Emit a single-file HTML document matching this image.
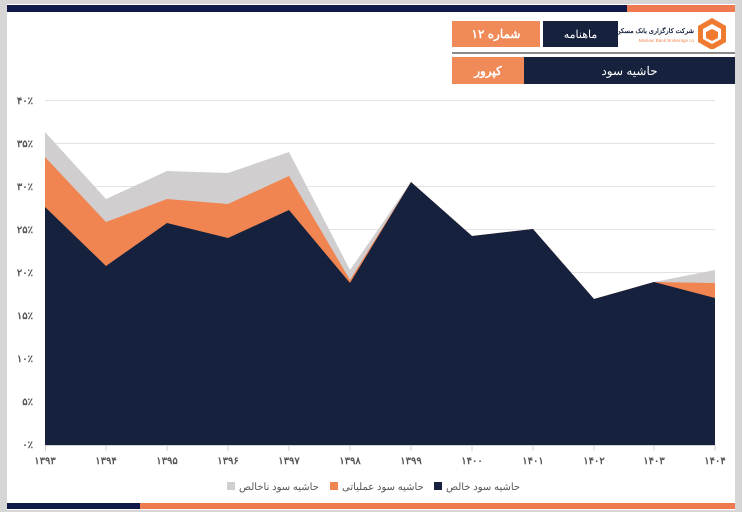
<!DOCTYPE html>
<html><head><meta charset="utf-8"><style>
body{margin:0;width:742px;height:512px;background:#d6d6d6;position:relative;overflow:hidden;font-family:"Liberation Sans","Noto Sans CJK SC",sans-serif}
.w{position:absolute;left:7px;top:4px;width:728px;height:506px;background:#fff}
.b{position:absolute}
.t{position:absolute;color:#fff;font-size:12px;font-weight:bold;display:flex;align-items:center;justify-content:center}
</style></head><body>
<div class="w"></div>
<div class="b" style="left:7px;top:5px;width:620px;height:7px;background:#0f1a4a"></div>
<div class="b" style="left:627px;top:5px;width:108px;height:7px;background:#f07a4f"></div>
<div class="b" style="left:7px;top:503px;width:133px;height:6px;background:#0f1a4a"></div>
<div class="b" style="left:140px;top:503px;width:595px;height:6px;background:#f07a4f"></div>
<div class="t" style="left:452px;top:21px;width:88px;height:26px;background:#f08a58">شماره ۱۲</div>
<div class="t" style="left:543px;top:21px;width:75px;height:26px;background:#15213d;font-weight:normal;font-size:11px">ماهنامه</div>
<div class="b" style="left:620px;top:27px;width:74px;font-size:6.5px;line-height:9px;color:#15213d;text-align:right;direction:rtl;white-space:nowrap;font-weight:bold">شرکت کارگزاری بانک مسکن<br><span style="color:#f08a58;font-size:4.5px;font-weight:normal">Maskan Bank Brokerage co.</span></div>
<svg class="b" style="left:696px;top:17px" width="32" height="32" viewBox="0 0 32 32"><polygon points="16,1 30,9 30,25 16,33 2,25 2,9" fill="#f07a2f"/><polygon points="16,7 25,12 25,22 16,27 7,22 7,12" fill="#fff"/><polygon points="16,12 22,15 22,21 16,24 10,21 10,15" fill="#f07a2f"/></svg>
<div class="b" style="left:452px;top:52px;width:283px;height:2px;background:#8a8a8a"></div>
<div class="t" style="left:452px;top:57px;width:72px;height:27px;background:#f08a58">کپرور</div>
<div class="t" style="left:524px;top:57px;width:211px;height:27px;background:#15213d;font-weight:normal">حاشیه سود</div>
<svg class="b" style="left:0;top:0" width="742" height="512">
<g stroke="#e3e3e3" stroke-width="1">
<line x1="45" x2="715" y1="100.5" y2="100.5"/><line x1="45" x2="715" y1="143.5" y2="143.5"/><line x1="45" x2="715" y1="186.5" y2="186.5"/><line x1="45" x2="715" y1="229.5" y2="229.5"/><line x1="45" x2="715" y1="272.5" y2="272.5"/><line x1="45" x2="715" y1="315.5" y2="315.5"/><line x1="45" x2="715" y1="358.5" y2="358.5"/><line x1="45" x2="715" y1="401.5" y2="401.5"/>
</g>
<polygon fill="#d0cece" points="45,445 45,132 106,199 167,171 228,173 289,152 350,270 411,182 472,236 533,229 594,299 654,282 715,270 715,445"/>
<polygon fill="#f08552" points="45,445 45,157 106,222 167,199 228,204 289,176 350,280 411,182 472,236 533,229 594,299 654,282 715,283 715,445"/>
<polygon fill="#15213d" points="45,445 45,207 106,266 167,223 228,238 289,210 350,283 411,182 472,236 533,229 594,299 654,282 715,298 715,445"/>
<g stroke="#d0d0d0"><line x1="45" x2="715" y1="445.5" y2="445.5"/>
<line x1="45.5" x2="45.5" y1="445" y2="451"/><line x1="106" x2="106" y1="445" y2="451"/><line x1="167" x2="167" y1="445" y2="451"/><line x1="228" x2="228" y1="445" y2="451"/><line x1="289" x2="289" y1="445" y2="451"/><line x1="350" x2="350" y1="445" y2="451"/><line x1="411" x2="411" y1="445" y2="451"/><line x1="472" x2="472" y1="445" y2="451"/><line x1="533" x2="533" y1="445" y2="451"/><line x1="594" x2="594" y1="445" y2="451"/><line x1="654" x2="654" y1="445" y2="451"/><line x1="715" x2="715" y1="445" y2="451"/></g>
<g font-size="10" fill="#555" font-weight="bold" text-anchor="end" font-family="Liberation Sans,Noto Sans CJK SC,sans-serif">
<text x="33" y="104">۴۰٪</text><text x="33" y="147">۳۵٪</text><text x="33" y="190">۳۰٪</text><text x="33" y="233">۲۵٪</text><text x="33" y="276">۲۰٪</text><text x="33" y="319">۱۵٪</text><text x="33" y="362">۱۰٪</text><text x="33" y="405">۵٪</text><text x="33" y="448">۰٪</text>
</g>
<g font-size="10" fill="#555" font-weight="bold" text-anchor="middle" font-family="Liberation Sans,Noto Sans CJK SC,sans-serif">
<text x="45" y="464">۱۳۹۳</text><text x="106" y="464">۱۳۹۴</text><text x="167" y="464">۱۳۹۵</text><text x="228" y="464">۱۳۹۶</text><text x="289" y="464">۱۳۹۷</text><text x="350" y="464">۱۳۹۸</text><text x="411" y="464">۱۳۹۹</text><text x="472" y="464">۱۴۰۰</text><text x="533" y="464">۱۴۰۱</text><text x="594" y="464">۱۴۰۲</text><text x="654" y="464">۱۴۰۳</text><text x="715" y="464">۱۴۰۴</text>
</g>
<rect x="227" y="482" width="8" height="8" fill="#d0cece"/><rect x="330" y="482" width="8" height="8" fill="#f08552"/><rect x="434" y="482" width="8" height="8" fill="#15213d"/>
<g font-size="10" fill="#555" font-family="Liberation Sans,Noto Sans CJK SC,sans-serif">
<text x="239" y="490">حاشیه سود ناخالص</text><text x="342" y="490">حاشیه سود عملیاتی</text><text x="446" y="490">حاشیه سود خالص</text>
</g>
</svg>
</body></html>
